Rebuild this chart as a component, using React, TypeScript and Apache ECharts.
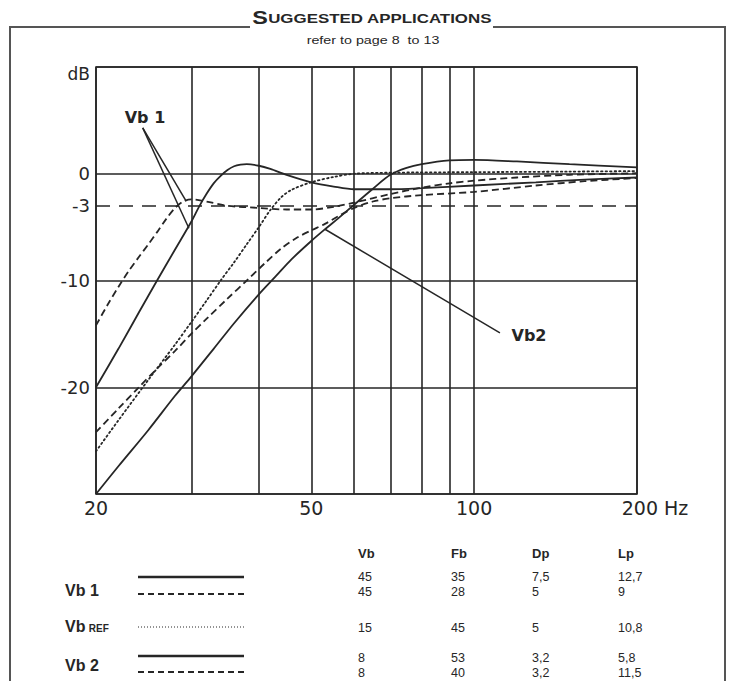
import React, { useEffect, useRef } from 'react';
import * as echarts from 'echarts';

// ---- data ----
const gridFreqs = [20, 30, 40, 50, 60, 70, 80, 90, 100, 200];
const xLabelFreqs = [20, 50, 100, 200];
const refLevelDb = -3;

// [frequency Hz, level dB]
const vb1Solid = [
  [20, -20], [22, -16.4], [24, -13], [26, -9.9], [28, -7.1], [30, -4.5], [31, -3.1], [32, -1.9],
  [33, -0.9], [34, -0.2], [35, 0.35], [36, 0.7], [37, 0.85], [38, 0.9], [40, 0.75], [42, 0.45],
  [45, -0.1], [50, -0.8], [55, -1.2], [60, -1.45], [70, -1.45], [80, -1.35], [100, -1.1],
  [130, -0.8], [160, -0.55], [200, -0.35],
];
const vb1Dashed = [
  [20, -14.2], [21, -12.3], [22, -10.6], [23, -9.1], [24, -7.8], [25, -6.6], [26, -5.4], [27, -4.2],
  [28, -3.2], [29, -2.6], [30, -2.4], [32, -2.6], [35, -3.0], [40, -3.2], [45, -3.35], [50, -3.35],
  [55, -3.1], [60, -2.7], [70, -1.9], [80, -1.3], [90, -0.9], [100, -0.65], [120, -0.35],
  [150, -0.1], [200, 0.05],
];
const vbRefDotted = [
  [20, -26], [22, -23.1], [25, -19.3], [28, -16], [30, -13.9], [32, -11.9], [34, -10], [36, -8.3],
  [38, -6.6], [40, -5], [42, -3.4], [44, -2.2], [46, -1.5], [50, -0.8], [55, -0.3], [60, 0],
  [70, 0.1], [100, 0.15], [150, 0.2], [200, 0.25],
];
const vb2Solid = [
  [20, -30], [22, -27.4], [25, -24], [28, -20.8], [30, -19], [33, -16.4], [36, -14], [40, -11.3],
  [43, -9.6], [46, -8], [50, -6.3], [53, -5.2], [56, -4.2], [60, -2.9], [65, -1.4], [70, -0.1],
  [75, 0.55], [80, 0.9], [90, 1.25], [100, 1.3], [120, 1.15], [150, 0.9], [200, 0.6],
];
const vb2Dashed = [
  [20, -24.2], [22, -22], [24, -20], [26, -18.2], [28, -16.6], [30, -15], [32, -13.6], [35, -11.7],
  [38, -10], [41, -8.4], [44, -7.0], [47, -6.0], [50, -5.3], [53, -4.7], [56, -4.0], [60, -3.2],
  [65, -2.6], [70, -2.3], [80, -2.0], [100, -1.7], [130, -1.1], [160, -0.7], [200, -0.4],
];

// pointer lines for curve labels: [from, to]
const vb1Pointers = [
  [[24.4, 4.3], [29.7, -5.1]],
  [[24.4, 4.3], [29.3, -2.5]],
];
const vb2Pointers = [[[53, -5.2], [111.6, -14.9]]];

// table
const tableHeaders = ['Vb', 'Fb', 'Dp', 'Lp'];
const tableVb = ['45', '45', '15', '8', '8'];
const tableFb = ['35', '28', '45', '53', '40'];
const tableDp = ['7,5', '5', '5', '3,2', '3,2'];
const tableLp = ['12,7', '9', '10,8', '5,8', '11,5'];
const tableStyles = ['solid', 'dashed', 'dotted', 'solid', 'dashed'];

const INK = '#262626';
const AXIS_FONT = 'DejaVu Sans';
const TABLE_FONT = '"Liberation Sans Narrow", "Liberation Sans", Arial, sans-serif';

function dashFor(style: string): any {
  if (style === 'dashed') return [7, 4];
  if (style === 'dotted') return [1.5, 3];
  return 'solid';
}

function curve(name: string, data: number[][], style: string, extra: any = {}) {
  return {
    type: 'line',
    name,
    data,
    symbol: 'none',
    showSymbol: false,
    smooth: 0.3,
    silent: true,
    z: 3,
    lineStyle: { color: INK, width: 1.8, type: dashFor(style), cap: style === 'dotted' ? 'round' : 'butt' },
    ...extra,
  };
}

function pointerLines(pairs: number[][][]) {
  return pairs.map((p) => [{ coord: p[0] }, { coord: p[1] }]);
}

export default function App() {
  const ref = useRef<HTMLDivElement>(null);

  useEffect(() => {
    if (!ref.current) return;
    const chart = echarts.init(ref.current, undefined, { renderer: 'svg' });

    const colX = [358, 451, 532, 618];
    const rowY = [577, 592, 628, 658, 673];
    const columns = [tableVb, tableFb, tableDp, tableLp];
    const legendY = [577, 594, 627, 656, 672];

    const graphic: any[] = [];
    // frame
    graphic.push(
      { type: 'line', shape: { x1: 10, y1: 27, x2: 250, y2: 27 }, style: { stroke: '#555', lineWidth: 2 } },
      { type: 'line', shape: { x1: 493, y1: 27, x2: 725, y2: 27 }, style: { stroke: '#555', lineWidth: 2 } },
      { type: 'line', shape: { x1: 10, y1: 26, x2: 10, y2: 681 }, style: { stroke: '#555', lineWidth: 2 } },
      { type: 'line', shape: { x1: 725, y1: 26, x2: 725, y2: 681 }, style: { stroke: '#555', lineWidth: 2 } },
    );
    // title
    graphic.push({
      type: 'text',
      x: 372,
      y: 27,
      scaleX: 1.3,
      style: {
        text: '{a|S}{b|UGGESTED APPLICATIONS}',
        align: 'center',
        verticalAlign: 'bottom',
        fill: INK,
        rich: {
          a: { fontSize: 18, fontWeight: 'bold', fontFamily: 'Liberation Sans', fill: INK },
          b: { fontSize: 13, fontWeight: 'bold', fontFamily: 'Liberation Sans', fill: INK },
        },
      },
    });
    graphic.push({
      type: 'text',
      x: 373,
      y: 40,
      scaleX: 1.3,
      style: { text: 'refer to page 8  to 13', align: 'center', verticalAlign: 'middle', fontSize: 11, fontFamily: 'Liberation Sans', fill: INK },
    });
    // curve labels
    graphic.push(
      { type: 'text', x: 145, y: 117, style: { text: 'Vb 1', align: 'center', verticalAlign: 'middle', fontSize: 16, fontWeight: 'bold', fontFamily: AXIS_FONT, fill: INK } },
      { type: 'text', x: 529, y: 335, style: { text: 'Vb2', align: 'center', verticalAlign: 'middle', fontSize: 16, fontWeight: 'bold', fontFamily: AXIS_FONT, fill: INK } },
    );
    // table headers
    tableHeaders.forEach((h, i) => {
      graphic.push({ type: 'text', x: colX[i], y: 553, style: { text: h, align: 'left', verticalAlign: 'middle', fontSize: 13, fontWeight: 'bold', fontFamily: TABLE_FONT, fill: INK } });
    });
    columns.forEach((col, ci) => {
      col.forEach((v, ri) => {
        graphic.push({ type: 'text', x: colX[ci], y: rowY[ri], style: { text: v, align: 'left', verticalAlign: 'middle', fontSize: 12.5, lineHeight: 13, fontFamily: TABLE_FONT, fill: INK } });
      });
    });
    // row labels
    graphic.push(
      { type: 'text', x: 65, y: 590, style: { text: 'Vb 1', align: 'left', verticalAlign: 'middle', fontSize: 16, fontWeight: 'bold', fontFamily: 'Liberation Sans', fill: INK } },
      {
        type: 'text', x: 65, y: 626,
        style: {
          text: '{a|Vb} {b|REF}', align: 'left', verticalAlign: 'middle', fill: INK,
          rich: {
            a: { fontSize: 16, fontWeight: 'bold', fontFamily: 'Liberation Sans', fill: INK },
            b: { fontSize: 10, fontWeight: 'bold', fontFamily: 'Liberation Sans', fill: INK, padding: [4, 0, 0, 0] },
          },
        },
      },
      { type: 'text', x: 65, y: 665, style: { text: 'Vb 2', align: 'left', verticalAlign: 'middle', fontSize: 16, fontWeight: 'bold', fontFamily: 'Liberation Sans', fill: INK } },
    );
    // legend samples
    tableStyles.forEach((s, i) => {
      graphic.push({
        type: 'line',
        shape: { x1: 138, y1: legendY[i], x2: 244, y2: legendY[i] },
        style: {
          stroke: INK,
          lineWidth: s === 'solid' ? 2.5 : s === 'dashed' ? 2 : 1,
          lineDash: s === 'dashed' ? [6, 4] : s === 'dotted' ? [1, 2] : null,
        },
      });
    });

    const option: any = {
      animation: false,
      backgroundColor: '#ffffff',
      grid: { left: 96, top: 67, width: 541, height: 427, show: true, borderColor: INK, borderWidth: 1.6, backgroundColor: 'transparent' },
      xAxis: {
        type: 'log',
        logBase: 10,
        min: 20,
        max: 200,
        axisLine: { show: false },
        axisTick: { show: false },
        axisLabel: { show: false },
        splitLine: { show: false },
        minorSplitLine: { show: false },
      },
      yAxis: {
        type: 'value',
        min: -30,
        max: 10,
        interval: 10,
        axisLine: { show: false },
        axisTick: { show: false },
        axisLabel: {
          fontFamily: AXIS_FONT,
          fontSize: 18,
          color: INK,
          margin: 6,
          formatter: (v: number) => (v === 10 ? '{d|dB}' : v === -30 ? '' : String(v)),
          rich: { d: { fontFamily: AXIS_FONT, fontSize: 17, color: INK, padding: [14, 0, 0, 0] } },
        },
        splitLine: { show: true, lineStyle: { color: INK, width: 1.6 } },
      },
      series: [
        {
          type: 'line',
          name: 'grid',
          data: [],
          silent: true,
          markLine: {
            silent: true,
            symbol: ['none', 'none'],
            animation: false,
            lineStyle: { color: INK, width: 1.6, type: 'solid' },
            label: { show: false },
            emphasis: { disabled: true },
            data: [
              ...gridFreqs.map((f) => ({
                xAxis: f,
                label: xLabelFreqs.includes(f)
                  ? {
                      show: true,
                      position: 'start',
                      distance: 4,
                      formatter: f === 200 ? '{p| }200 Hz' : String(f),
                      rich: { p: { width: 36 } },
                      fontFamily: AXIS_FONT,
                      fontSize: 19,
                      color: INK,
                    }
                  : { show: false },
              })),
              {
                yAxis: refLevelDb,
                lineStyle: { type: [14, 9], width: 1.6, color: INK },
                label: { show: true, position: 'start', distance: 6, formatter: String(refLevelDb), fontFamily: AXIS_FONT, fontSize: 18, color: INK },
              },
            ],
          },
        },
        curve('Vb 1 (Fb 35)', vb1Solid, 'solid', {
          markLine: {
            silent: true,
            symbol: ['none', 'none'],
            animation: false,
            label: { show: false },
            lineStyle: { color: INK, width: 1.5, type: 'solid' },
            data: [...pointerLines(vb1Pointers), ...pointerLines(vb2Pointers)],
          },
        }),
        curve('Vb 1 (Fb 28)', vb1Dashed, 'dashed'),
        curve('Vb REF', vbRefDotted, 'dotted'),
        curve('Vb 2 (Fb 53)', vb2Solid, 'solid'),
        curve('Vb 2 (Fb 40)', vb2Dashed, 'dashed'),
      ],
      graphic,
    };

    chart.setOption(option);
    return () => chart.dispose();
  }, []);

  return <div ref={ref} style={{ position: 'absolute', left: 0, top: 0, width: 736, height: 681 }} />;
}
